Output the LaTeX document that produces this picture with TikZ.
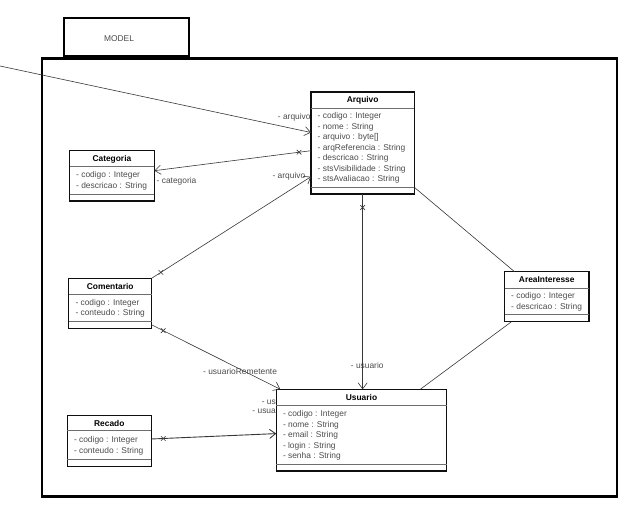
\documentclass[tikz,border=0pt]{standalone}
\usepackage{fontspec}
\setmainfont{Liberation Sans}
\usetikzlibrary{calc,arrows.meta}
\definecolor{attrc}{RGB}{75,75,75}
\definecolor{boxc}{RGB}{15,15,15}
\definecolor{sepc}{RGB}{110,110,110}
\definecolor{connc}{RGB}{55,55,55}
\newcommand\myattrfont{\fontsize{8.4}{10}\selectfont}
\newcommand\myttlfont{\fontsize{8.4}{10}\selectfont\bfseries}
\tikzset{
  box/.style={draw=boxc, line width=1.2pt, anchor=north west, inner sep=0pt, outer sep=0pt},
  ttl/.style={font=\myttlfont, text=black, inner sep=0pt, text height=6pt, text depth=2pt, anchor=center},
  attr/.style={font=\myattrfont, text=attrc, inner sep=0pt, text height=6pt, text depth=2pt, anchor=west},
  lbl/.style={font=\myattrfont, text=attrc, inner sep=0pt, text height=6pt, text depth=2pt},
  conn/.style={draw=connc, line width=0.6pt},
  arr/.style={-{Straight Barb[length=6pt,width=9pt]}},
  sepl/.style={draw=sepc, line width=0.8pt},
  xm/.pic={\draw[connc, line width=0.6pt] (-2.3,-2.3)--(2.3,2.3) (-2.3,2.3)--(2.3,-2.3);}
}
\begin{document}
\begin{tikzpicture}[x=1pt,y=-1pt]
\useasboundingbox (0,0) rectangle (640,513);
% package frame and tab
\node[draw=black, line width=2.6pt, anchor=north west, inner sep=0pt, minimum width=575pt, minimum height=438pt] (pkg) at (40.5,57.3) {};
\node[draw=black, line width=2.4pt, anchor=south west, inner sep=0pt, minimum width=125.5pt, minimum height=37.8pt] (tab) at (pkg.north west -| 62.5,0) {};
\node[lbl, anchor=center] (model) at (119,39.3) {MODEL};

% classes
% Arquivo
\node[box, minimum width=103.3pt, minimum height=102pt] (arq) at (311,92) {};
\draw[sepl] ($(arq.north west)+(0,16)$) -- ($(arq.north east)+(0,16)$);
\draw[sepl] ($(arq.south west)+(0,-7)$) -- ($(arq.south east)+(0,-7)$);
\node[ttl] (arqT) at ($(arq.north)+(0,8.5)$) {Arquivo};
\foreach \t [count=\i from 0] in {- codigo : Integer, - nome : String, - arquivo : byte[], - arqReferencia : String, - descricao : String, - stsVisibilidade : String, - stsAvaliacao : String}
  \node[attr] (arqA\i) at ($(arq.north west)+(6.5,{25+10.5*\i})$) {\t};

% Categoria
\node[box, minimum width=84.8pt, minimum height=50.3pt] (cat) at (69.5,150.7) {};
\draw[sepl] ($(cat.north west)+(0,16)$) -- ($(cat.north east)+(0,16)$);
\draw[sepl] ($(cat.south west)+(0,-7)$) -- ($(cat.south east)+(0,-7)$);
\node[ttl] (catT) at ($(cat.north)+(0,8.8)$) {Categoria};
\foreach \t [count=\i from 0] in {- codigo : Integer, - descricao : String}
  \node[attr] (catA\i) at ($(cat.north west)+(6.5,{25+10.5*\i})$) {\t};

% Comentario
\node[box, minimum width=82.8pt, minimum height=50.5pt] (com) at (68.8,278.3) {};
\draw[sepl] ($(com.north west)+(0,16.5)$) -- ($(com.north east)+(0,16.5)$);
\draw[sepl] ($(com.south west)+(0,-7)$) -- ($(com.south east)+(0,-7)$);
\node[ttl] (comT) at ($(com.north)+(0,9.2)$) {Comentario};
\foreach \t [count=\i from 0] in {- codigo : Integer, - conteudo : String}
  \node[attr] (comA\i) at ($(com.north west)+(6.5,{25+10.5*\i})$) {\t};

% AreaInteresse
\node[box, minimum width=84.5pt, minimum height=50pt] (area) at (504.5,271.7) {};
\draw[sepl] ($(area.north west)+(0,16.5)$) -- ($(area.north east)+(0,16.5)$);
\draw[sepl] ($(area.south west)+(0,-7.3)$) -- ($(area.south east)+(0,-7.3)$);
\node[ttl] (areaT) at ($(area.north)+(0,9.3)$) {AreaInteresse};
\foreach \t [count=\i from 0] in {- codigo : Integer, - descricao : String}
  \node[attr] (areaA\i) at ($(area.north west)+(6.5,{25+10.8*\i})$) {\t};

% Usuario
\node[box, minimum width=170.4pt, minimum height=81.7pt] (usu) at (276.3,389.3) {};
\draw[sepl] ($(usu.north west)+(0,16.4)$) -- ($(usu.north east)+(0,16.4)$);
\draw[sepl] ($(usu.south west)+(0,-6.7)$) -- ($(usu.south east)+(0,-6.7)$);
\node[ttl] (usuT) at ($(usu.north)+(0,8.7)$) {Usuario};
\foreach \t [count=\i from 0] in {- codigo : Integer, - nome : String, - email : String, - login : String, - senha : String}
  \node[attr] (usuA\i) at ($(usu.north west)+(6.5,{25.2+10.5*\i})$) {\t};

% Recado
\node[box, minimum width=84pt, minimum height=51pt] (rec) at (67.3,415.5) {};
\draw[sepl] ($(rec.north west)+(0,15)$) -- ($(rec.north east)+(0,15)$);
\draw[sepl] ($(rec.south west)+(0,-7.5)$) -- ($(rec.south east)+(0,-7.5)$);
\node[ttl] (recT) at ($(rec.north)+(0,8.5)$) {Recado};
\foreach \t [count=\i from 0] in {- codigo : Integer, - conteudo : String}
  \node[attr] (recA\i) at ($(rec.north west)+(6.5,{25+10.5*\i})$) {\t};

% connectors
\coordinate (ext) at (0,66);
\draw[conn, arr] (ext) -- ($(arq.north west)+(0,40.5)$);
\node[lbl, anchor=east] (l1) at (310.8,117.3) {- arquivo};

\draw[conn, arr] ($(arq.north west)+(0,58.7)$) coordinate (c2a) -- ($(cat.north east)+(0,20)$) coordinate (c2b);
\pic at ($(c2a)!12pt!(c2b)$) {xm};
\node[lbl, anchor=west] (l2) at (156.5,182) {- categoria};

\draw[conn, arr] (com.north east) -- ($(arq.north west)+(0,84.7)$) coordinate (c3b);
\pic at ($(com.north east)!11pt!(c3b)$) {xm};
\node[lbl, anchor=east] (l3) at (305.5,176.5) {- arquivo};

\draw[conn, arr] ($(com.north east)+(0,46.5)$) coordinate (c4a) -- ($(usu.north west)+(4,0)$) coordinate (c4b);
\pic at ($(c4a)!13pt!(c4b)$) {xm};
\node[lbl, anchor=west] (l4) at (203,372.7) {- usuarioRemetente};

\draw[conn, arr] (arq.south) -- (arq.south |- usu.north);
\pic at ($(arq.south)+(0,13.5)$) {xm};
\node[lbl, anchor=west] (l5) at (350.7,366) {- usuario};

\draw[conn] ($(arq.south east)+(0,-6.7)$) -- ($(area.north west)+(10,0)$);
\draw[conn] ($(area.south west)+(7,0)$) -- ($(usu.north west)+(144,0)$);

\draw[conn, line width=0.9pt, arr] ($(rec.north east)+(0,23.5)$) coordinate (c8a) -- ($(usu.north west)+(0,44.3)$) coordinate (c8b);
\pic at ($(c8a)!12pt!(c8b)$) {xm};
\node[lbl, anchor=east] (l6) at (276,402) {- us};
\node[lbl, anchor=east] (l7) at (276,411) {- usua};
\end{tikzpicture}
\end{document}
